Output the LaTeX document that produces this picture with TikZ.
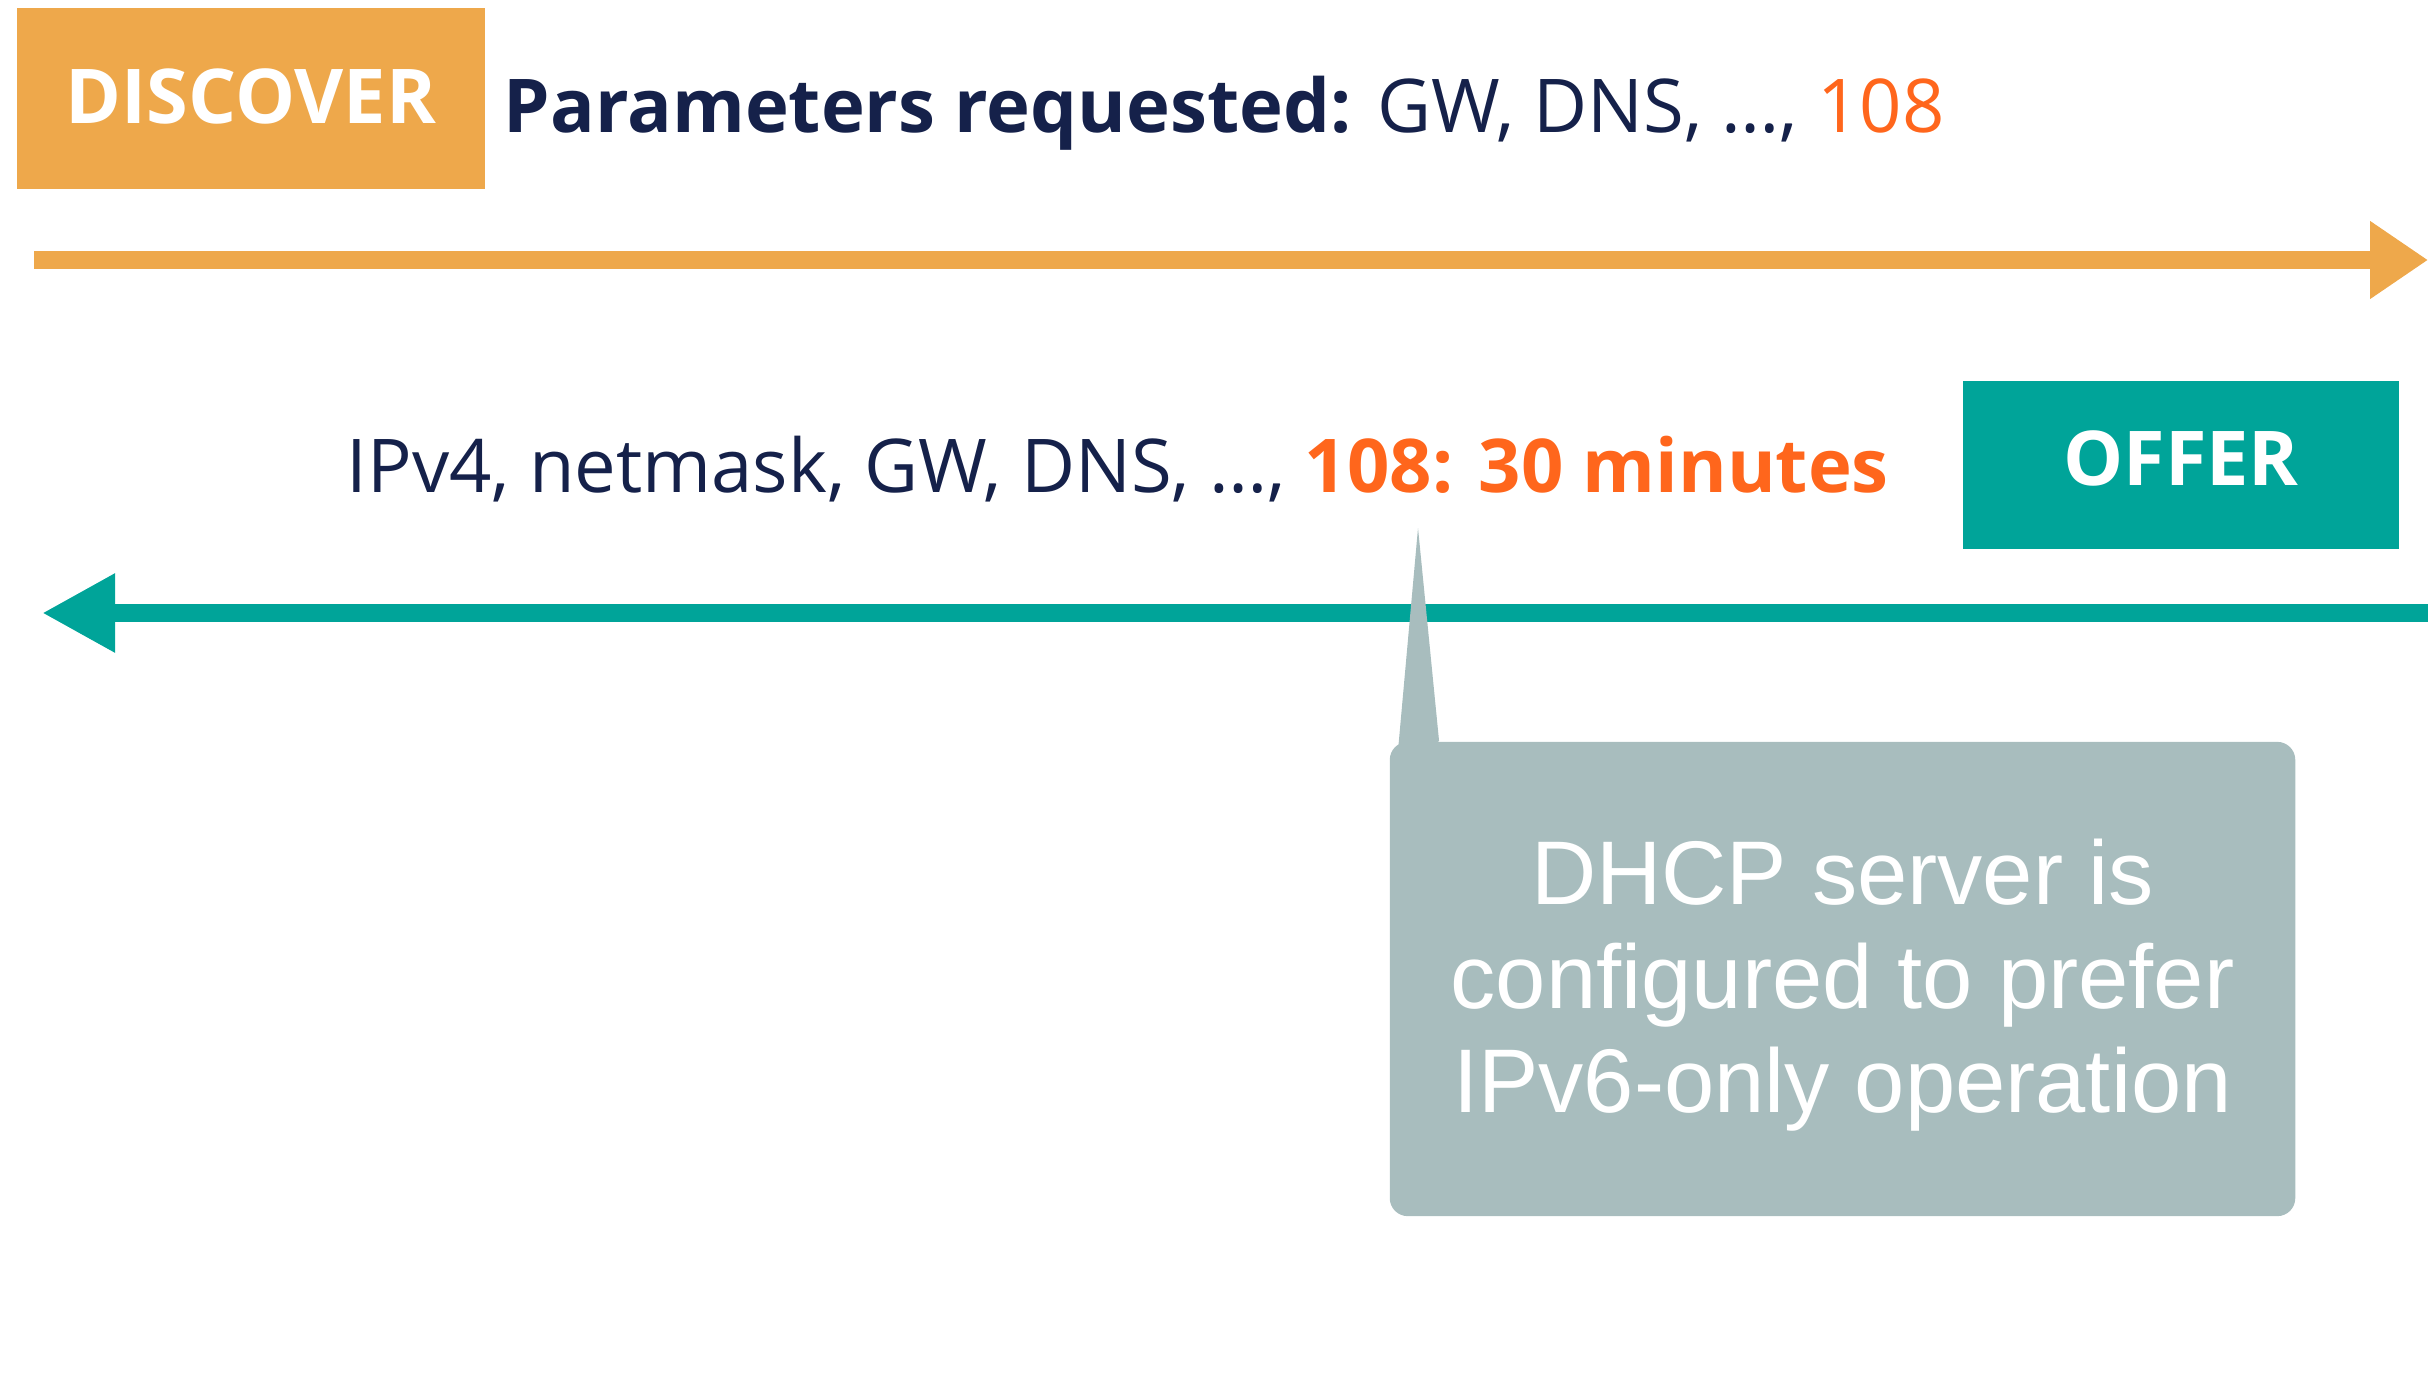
\documentclass[tikz,border=0pt]{standalone}
\usepackage{fontspec}
\setmainfont{Open Sans}
\newfontfamily\calloutfont{Liberation Sans}
\usetikzlibrary{arrows.meta}
\definecolor{discorange}{HTML}{EEA84B}
\definecolor{offerteal}{HTML}{00A499}
\definecolor{navy}{HTML}{15214A}
\definecolor{hiorange}{HTML}{FF661C}
\definecolor{notegray}{HTML}{A8BDBE}
\tikzset{
  msgbox/.style={inner sep=0pt, text=white, font=\fontsize{21.5}{26}\selectfont\bfseries},
  msgtext/.style={inner sep=0pt, anchor=base west, text=navy, font=\fontsize{21.1}{26}\selectfont},
  flow/.style={line width=1.8mm, -{Triangle[length=5.8mm,width=7.4mm]}},
  backflow/.style={line width=1.8mm, -{Triangle[length=7.3mm,width=7.4mm]}},
  notebox/.style={fill=notegray, rounded corners=1.8mm, inner sep=0pt},
  notetext/.style={inner sep=0pt, align=center, text=white,
    font=\calloutfont\fontsize{25.7}{29.6}\selectfont}
}
\begin{document}
\begin{tikzpicture}[x=0.01cm,y=-0.01cm]
\useasboundingbox (0,0) rectangle (2428,1382);
% DISCOVER
\node[msgbox, fill=discorange, minimum width=4.68cm, minimum height=1.81cm,
      text height=0.54cm, text depth=0.05cm] (disc) at (251,98.5) {DISCOVER};
\node[msgtext] (params) at (503,133) {\textbf{Parameters requested:} GW, DNS, …, \textcolor{hiorange}{108}};
\coordinate (d1) at (34,260);
\coordinate (d2) at (2428,260);
\draw[flow, draw=discorange, fill=discorange] (d1) -- (d2);
% OFFER
\node[msgbox, fill=offerteal, minimum width=4.36cm, minimum height=1.68cm,
      text height=0.54cm, text depth=0.13cm] (offer) at (2181,465) {OFFER};
\node[msgtext] (opts) at (346,492) {IPv4, netmask, GW, DNS, …, \textcolor{hiorange}{\textbf{108: 30 minutes}}};
\coordinate (o1) at (2428,613);
\coordinate (o2) at (42,613);
\draw[backflow, draw=offerteal, fill=offerteal] (o1) -- (o2);
% callout
\node[notebox, minimum width=9.05cm, minimum height=4.74cm] (note) at (1842.5,979) {};
\node[notetext] (notelabel) at (1842.5,985)
  {DHCP server is\\configured to prefer\\IPv6-only operation};
\coordinate (tip) at (1418,528);
\fill[notegray] ([xshift=0.08cm,yshift=-0.2cm]note.north west) -- (tip) -- ([xshift=0.5cm]note.north west) -- cycle;
\end{tikzpicture}
\end{document}
